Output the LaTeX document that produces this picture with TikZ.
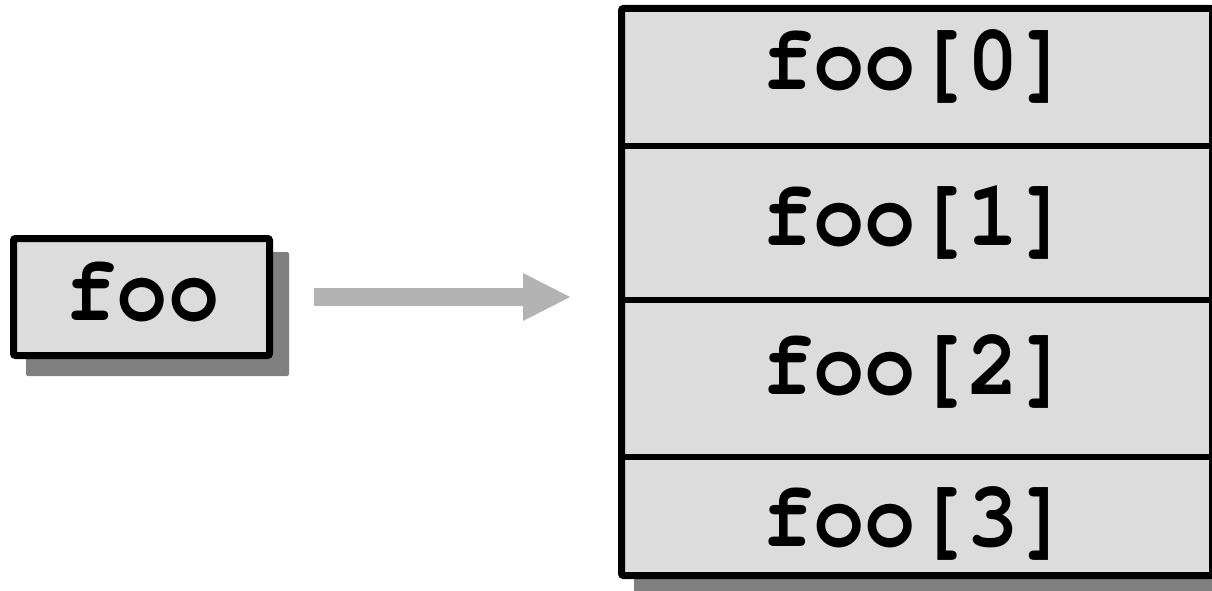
\documentclass[tikz,border=0pt]{standalone}
\usepackage{fontspec}
\setmonofont{texgyrecursor}[Extension=.otf, UprightFont=*-regular, BoldFont=*-bold, FakeStretch=0.91]
\usetikzlibrary{arrows.meta,backgrounds}
\definecolor{cellfill}{HTML}{DCDCDC}
\definecolor{shadowgray}{HTML}{808080}
\definecolor{arrowgray}{HTML}{B3B3B3}
\tikzset{
  box/.style={draw=black, line width=7pt, fill=cellfill, rounded corners=2pt,
    inner sep=0pt},
  label/.style={font=\ttfamily\bfseries\fontsize{94}{100}\selectfont, inner sep=0pt,
    anchor=base},
  divider/.style={draw=black, line width=6pt},
  pointer/.style={draw=arrowgray, line width=18pt,
    -{Triangle[length=47pt,width=48pt,line width=0pt]}},
  shade/.style={fill=shadowgray, rounded corners=2pt}
}
\begin{document}
\begin{tikzpicture}[x=1pt, y=-1pt]
  \useasboundingbox (0,0) rectangle (1212,591);
  \clip (0,0) rectangle (1212,591);

  % the variable
  \node[box, minimum width=256pt, minimum height=117pt] (foo) at (141.5,297) {};
  \node[label] (foolabel) at (142.5,320) {foo};

  % the array with its four cells
  \node[box, minimum width=591pt, minimum height=567pt] (arr) at (917,292) {};
  \coordinate (d1) at (0,146);
  \coordinate (d2) at (0,300);
  \coordinate (d3) at (0,457);
  \draw[divider] (arr.west |- d1) -- (arr.east |- d1);
  \draw[divider] (arr.west |- d2) -- (arr.east |- d2);
  \draw[divider] (arr.west |- d3) -- (arr.east |- d3);
  \node[label] (c0) at (916,90)  {foo[0]};
  \node[label] (c1) at (916,245) {foo[1]};
  \node[label] (c2) at (916,394) {foo[2]};
  \node[label] (c3) at (916,546) {foo[3]};

  % drop shadows behind both boxes
  \begin{scope}[on background layer]
    \fill[shade] ([shift={(16,17)}]foo.north west) rectangle ([shift={(16,17)}]foo.south east);
    \fill[shade] ([shift={(16,17)}]arr.north west) rectangle ([shift={(16,17)}]arr.south east);
  \end{scope}

  % the reference from foo to the array
  \draw[pointer, shorten <=41pt, shorten >=48pt] (foo.east) -- (arr.west |- foo.east);
\end{tikzpicture}
\end{document}
